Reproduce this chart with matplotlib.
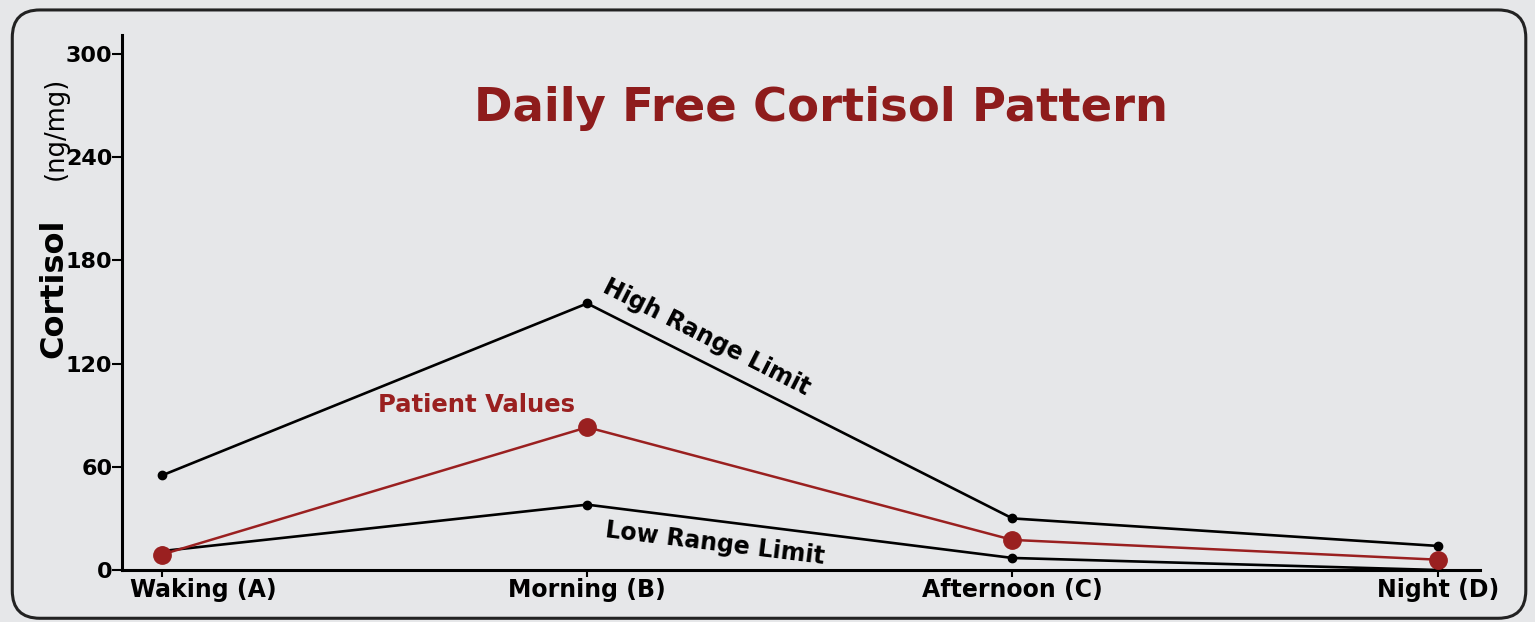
import matplotlib
matplotlib.use("Agg")
import matplotlib.pyplot as plt
import matplotlib.transforms as mtransforms
from matplotlib.patches import FancyBboxPatch

# data
times = ["Waking (A)", "Morning (B)", "Afternoon (C)", "Night (D)"]
high_limit = [55, 155, 30, 14]
patient = [9, 83, 17.5, 6]
low_limit = [11, 38, 7, 0]
yticks = [0, 60, 120, 180, 240, 300]

bg = "#e6e7e9"
red = "#9a2020"

fig = plt.figure(figsize=(15.35, 6.22), dpi=100, facecolor=bg)
ax = fig.add_axes([0.0795, 0.0836, 0.8845, 0.86])
ax.set_facecolor(bg)

# rounded outer frame
frame = FancyBboxPatch((0.008, 0.006), 0.986, 0.978, boxstyle="round,pad=0,rounding_size=0.018",
                       transform=fig.transFigure, fill=False, ec="#222222", lw=2.2,
                       mutation_aspect=1535 / 622)
fig.patches.append(frame)

x = list(range(len(times)))
ax.plot(x, high_limit, color="black", lw=1.9, marker="o", ms=6, zorder=3)
ax.plot(x, low_limit, color="black", lw=1.9, marker="o", ms=6, zorder=3)
ax.plot(x, patient, color=red, lw=1.8, marker="o", ms=12.5, zorder=4)

ax.set_xlim(-0.094, 3.099)
ax.set_ylim(0, 311)
ax.set_xticks(x)
ax.set_xticklabels(times, fontsize=17, fontweight="bold")
ax.set_yticks(yticks)
ax.set_yticklabels([str(v) for v in yticks], fontsize=16, fontweight="bold")
ax.tick_params(axis="y", length=7, width=1.5, pad=0)
ax.tick_params(axis="x", length=5, width=1.5, pad=1)

# first category label sits to the right of its tick in the reference
first = ax.get_xticklabels()[0]
first.set_transform(first.get_transform() + mtransforms.ScaledTranslation(0.41, 0, fig.dpi_scale_trans))

for s in ["top", "right"]:
    ax.spines[s].set_visible(False)
for s in ["left", "bottom"]:
    ax.spines[s].set_linewidth(2.2)

# annotations
ax.text(0.74, 96, "Patient Values", color=red, fontsize=17.5, fontweight="bold",
        ha="center", va="center")
ax.text(1.28, 135, "High Range Limit", color="black", fontsize=17, fontweight="bold",
        ha="center", va="center", rotation=-27, rotation_mode="anchor")
ax.text(1.30, 15.5, "Low Range Limit", color="black", fontsize=17, fontweight="bold",
        ha="center", va="center", rotation=-7, rotation_mode="anchor")

fig.text(0.535, 0.826, "Daily Free Cortisol Pattern", color="#8e1c1c", fontsize=33.5,
         fontweight="bold", ha="center", va="center")
fig.text(0.035, 0.537, "Cortisol", fontsize=23, fontweight="bold", rotation=90,
         ha="center", va="center")
fig.text(0.036, 0.794, "(ng/mg)", fontsize=18.5, rotation=90, ha="center", va="center")

plt.savefig("out.png", dpi=100, facecolor=bg)
